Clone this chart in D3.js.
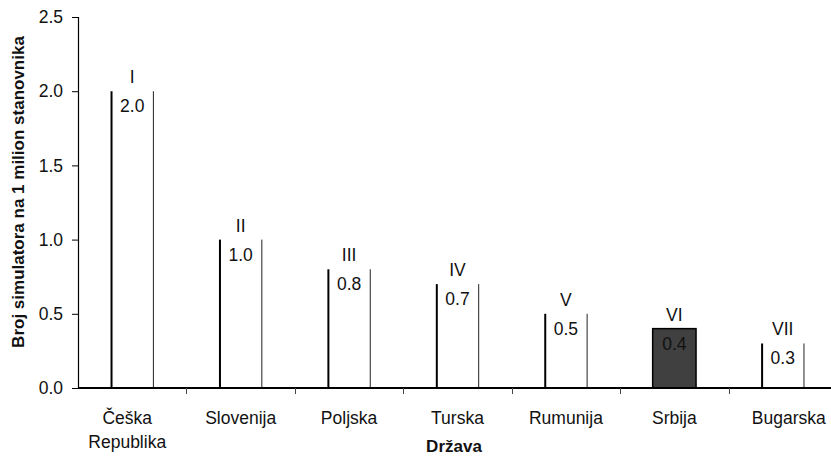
<!DOCTYPE html>
<html>
<head>
<meta charset="utf-8">
<script src="https://cdn.jsdelivr.net/npm/d3@7"></script>
<style>
body { margin: 0; background: #fff; }
text { font-family: "Liberation Sans", Arial, sans-serif; fill: #111; }
</style>
</head>
<body>
<div id="chart"></div>
<script>
var countries = ["Češka Republika", "Slovenija", "Poljska", "Turska", "Rumunija", "Srbija", "Bugarska"];
var values = [2.0, 1.0, 0.8, 0.7, 0.5, 0.4, 0.3];
var ranks = ["I", "II", "III", "IV", "V", "VI", "VII"];
var yTicks = [0, 0.5, 1.0, 1.5, 2.0, 2.5];
var highlight = "Srbija";

var data = countries.map(function (c, i) {
    return {country: c, value: values[i], rank: ranks[i]};
});

var width = 831, height = 457, fs = 17.5;
var svg = d3.select("#chart").append("svg")
    .attr("width", width)
    .attr("height", height);

var x = d3.scaleBand().domain(countries).range([78, 837]).paddingInner(0.6).paddingOuter(0.3),
    y = d3.scaleLinear().domain([0, 2.5]).range([388, 17]);
var band = d3.scaleBand().domain(countries).range([78, 837]);

// y axis
var yAxis = svg.append("g")
    .attr("transform", "translate(78,0)")
    .call(d3.axisLeft(y).tickValues(yTicks).tickFormat(d3.format(".1f")).tickSize(6).tickPadding(9));
yAxis.select(".domain").attr("stroke", "#000").attr("stroke-width", 1.2);
yAxis.selectAll(".tick line").attr("stroke", "#000");
yAxis.selectAll("text").attr("font-size", fs).attr("fill", "#111");

// bars
var bars = svg.append("g").selectAll("g")
    .data(data)
    .enter().append("g");

bars.append("rect")
    .attr("x", function (d) { return x(d.country); })
    .attr("y", function (d) { return y(d.value); })
    .attr("width", x.bandwidth())
    .attr("height", function (d) { return y(0) - y(d.value); })
    .attr("fill", function (d) { return d.country == highlight ? "#404040" : "#fff"; })
    .attr("stroke", function (d) { return d.country == highlight ? "#000" : "none"; })
    .attr("stroke-width", 1.5);

bars.filter(function (d) { return d.country != highlight; })
    .append("line")
    .attr("x1", function (d) { return x(d.country) + 1; })
    .attr("x2", function (d) { return x(d.country) + 1; })
    .attr("y1", function (d) { return y(d.value); })
    .attr("y2", y(0))
    .attr("stroke", "#000")
    .attr("stroke-width", 2);

bars.filter(function (d) { return d.country != highlight; })
    .append("line")
    .attr("x1", function (d) { return x(d.country) + x.bandwidth() - 0.5; })
    .attr("x2", function (d) { return x(d.country) + x.bandwidth() - 0.5; })
    .attr("y1", function (d) { return y(d.value); })
    .attr("y2", y(0))
    .attr("stroke", "#222")
    .attr("stroke-width", 1);

bars.append("text")
    .attr("x", function (d) { return x(d.country) + x.bandwidth() / 2; })
    .attr("y", function (d) { return y(d.value) - 8; })
    .attr("text-anchor", "middle")
    .attr("font-size", fs)
    .text(function (d) { return d.rank; });

bars.append("text")
    .attr("x", function (d) { return x(d.country) + x.bandwidth() / 2; })
    .attr("y", function (d) { return y(d.value) + 21; })
    .attr("text-anchor", "middle")
    .attr("font-size", fs)
    .text(function (d) { return d.value.toFixed(1); });

// x axis
var xg = svg.append("g").attr("transform", "translate(0," + y(0) + ")");
xg.append("line")
    .attr("x1", 78).attr("x2", 837)
    .attr("stroke", "#000").attr("stroke-width", 2);
xg.selectAll(".sep")
    .data(countries.slice(1))
    .enter().append("line")
    .attr("class", "sep")
    .attr("x1", function (d) { return Math.round(band(d)) + 0.5; })
    .attr("x2", function (d) { return Math.round(band(d)) + 0.5; })
    .attr("y1", 0).attr("y2", 6)
    .attr("stroke", "#444");

var labels = xg.selectAll(".lab")
    .data(countries)
    .enter().append("text")
    .attr("class", "lab")
    .attr("x", function (d) { return band(d) + band.bandwidth() / 2; })
    .attr("y", 36)
    .attr("text-anchor", "middle")
    .attr("font-size", fs);
labels.each(function (d, k) {
    var parts = d.split(" ");
    var t = d3.select(this);
    // small nudges as in the original layout
    var shift = parts.length > 1 ? -5 : (k == countries.length - 1 ? 6 : 0);
    parts.forEach(function (p, i) {
        t.append("tspan")
            .attr("x", band(d) + band.bandwidth() / 2 + shift)
            .attr("dy", i == 0 ? 0 : 24)
            .text(p);
    });
});

// axis titles
svg.append("text")
    .attr("x", 454)
    .attr("y", 452)
    .attr("text-anchor", "middle")
    .attr("font-size", 17)
    .attr("font-weight", "bold")
    .text("Država");

svg.append("text")
    .attr("transform", "translate(24,192) rotate(-90)")
    .attr("text-anchor", "middle")
    .attr("font-size", 17)
    .attr("font-weight", "bold")
    .text("Broj simulatora na 1 milion stanovnika");
</script>
</body>
</html>
